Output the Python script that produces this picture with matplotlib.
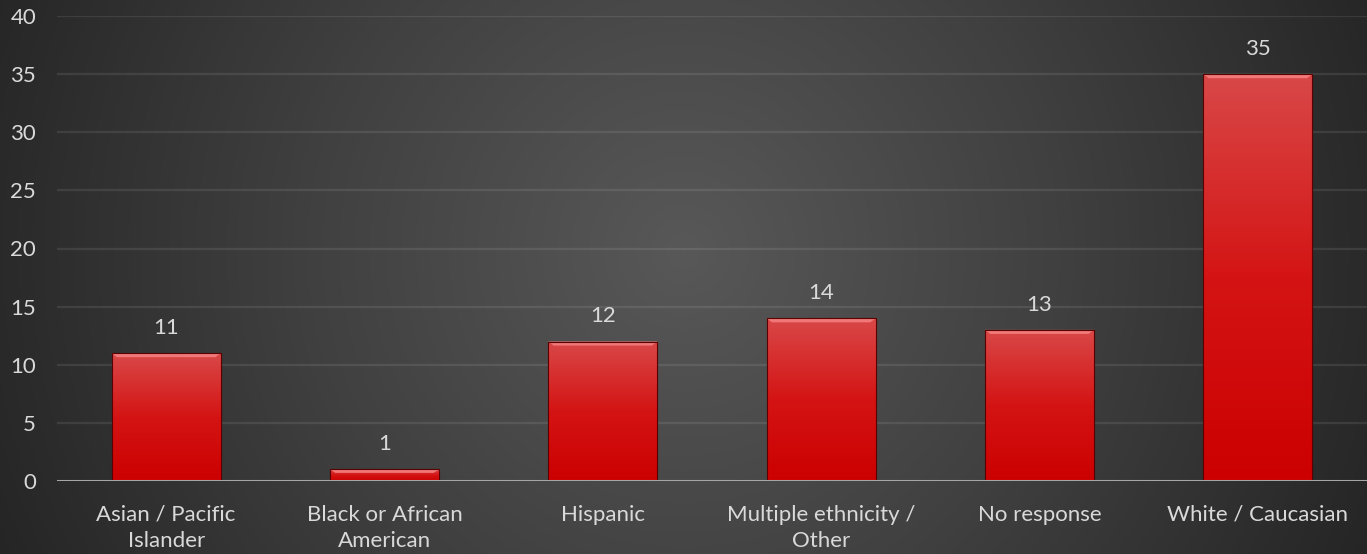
import matplotlib
matplotlib.use('Agg')
import matplotlib.pyplot as plt
import numpy as np
from matplotlib.colors import LinearSegmentedColormap

categories = ['Asian / Pacific\nIslander', 'Black or African\nAmerican', 'Hispanic',
              'Multiple ethnicity /\nOther', 'No response', 'White / Caucasian']
counts = [11, 1, 12, 14, 13, 35]
y_ticks = [0, 5, 10, 15, 20, 25, 30, 35, 40]

plt.rcParams['font.family'] = ['Lato', 'DejaVu Sans']
text_color = '#d9d9d9'

fig = plt.figure(figsize=(13.67, 5.54), dpi=100)

# radial gradient background
bg = fig.add_axes([0, 0, 1, 1])
bg.set_axis_off()
yy, xx = np.mgrid[0:554, 0:1367]
r = np.sqrt(((xx - 683) / 683.0) ** 2 + ((yy - 250) / 683.0) ** 2)
r = np.clip(r / 1.1, 0, 1)
bg_cmap = LinearSegmentedColormap.from_list('bg', ['#585858', '#404040', '#252525'])
bg.imshow(r, cmap=bg_cmap, aspect='auto', extent=[0, 1, 0, 1], vmin=0, vmax=1)
bg.set_xlim(0, 1)
bg.set_ylim(0, 1)

ax = fig.add_axes([57 / 1367, 1 - 481 / 554, 1 - 57 / 1367, 465 / 554])
ax.patch.set_alpha(0)
x = np.arange(len(categories))
ax.set_xlim(-0.5, len(categories) - 0.5)
ax.set_ylim(0, 40)

for t in y_ticks[1:]:
    ax.axhline(t, color='white', alpha=0.09, lw=1.6, zorder=1)
ax.axhline(0, color='#a6a6a6', lw=2.2, zorder=4)

bar_cmap = LinearSegmentedColormap.from_list('bar', ['#cc0000', '#d41414', '#d94848'])
bars = ax.bar(x, counts, width=0.5, color='none', edgecolor='#5a0000', lw=0.8, zorder=3)
for b, v in zip(bars, counts):
    x0 = b.get_x()
    w = b.get_width()
    grad = np.linspace(0, 1, 256).reshape(-1, 1)
    im = ax.imshow(grad, cmap=bar_cmap, aspect='auto', origin='lower',
                   extent=[x0, x0 + w, 0, v], zorder=2, vmin=0, vmax=1)
    im.set_clip_path(b)
    # bevel highlight at top
    bev = min(0.35, v * 0.3)
    ax.fill([x0, x0 + w, x0 + w - 0.025, x0 + 0.025], [v, v, v - bev, v - bev],
            color='#f07878', lw=0, zorder=2.5)
    ax.text(b.get_x() + w / 2, v + 1.3, str(v), ha='center', va='bottom',
            color=text_color, fontsize=16)

ax.set_xticks(x)
ax.set_xticklabels(categories, color=text_color, fontsize=16, linespacing=1.4)
ax.set_yticks(y_ticks)
ax.set_yticklabels([str(t) for t in y_ticks], color=text_color, fontsize=16)
ax.tick_params(axis='both', length=0)
ax.tick_params(axis='x', pad=17)
ax.tick_params(axis='y', pad=15)
for s in ax.spines.values():
    s.set_visible(False)

fig.savefig('out.png', dpi=100)
